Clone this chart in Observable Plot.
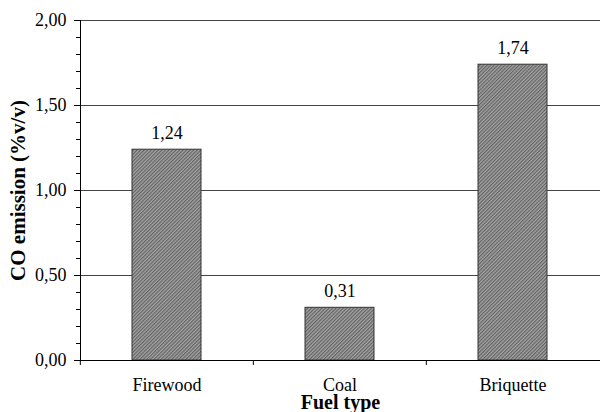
<!DOCTYPE html>
<html><head><meta charset="utf-8">
<script src="https://cdn.jsdelivr.net/npm/d3@7"></script>
<script src="https://cdn.jsdelivr.net/npm/@observablehq/plot@0.6"></script>
<style>body{margin:0;background:#fff}</style>
</head><body><div id="chart"></div>
<script>
const categories = ["Firewood", "Coal", "Briquette"];
const values = [1.24, 0.31, 1.74];
const majorTicks = [0, 0.5, 1.0, 1.5, 2.0];
const minorTicks = [0, 0.1, 0.2, 0.3, 0.4, 0.5, 0.6, 0.7, 0.8, 0.9, 1.0, 1.1, 1.2, 1.3, 1.4, 1.5, 1.6, 1.7, 1.8, 1.9, 2.0];
const gridTicks = [0.5, 1.0, 1.5, 2.0];
const yLabel = "CO emission (%v/v)";
const xLabel = "Fuel type";

const data = categories.map((c, i) => ({fuel: c, co: values[i]}));
const fmt = v => v.toFixed(2).replace(".", ",");

const W = 600, H = 412, mL = 80, mR = 0, mT = 20, mB = 52;
const step = (W - mL - mR) / categories.length;

const chart = Plot.plot({
  width: W, height: H,
  marginLeft: mL, marginRight: mR, marginTop: mT, marginBottom: mB,
  style: {fontFamily: "'Liberation Serif', 'Times New Roman', serif", fontSize: "18px", color: "#000", background: "#fff"},
  x: {domain: categories, paddingInner: 0.6, paddingOuter: 0.3},
  y: {domain: [0, 2]},
  marks: [
    Plot.gridY(gridTicks, {stroke: "#444", strokeOpacity: 1}),
    Plot.barY(data, {x: "fuel", y: "co", fill: "url(#hatch)", stroke: "#333", strokeWidth: 1}),
    Plot.text(data, {x: "fuel", y: "co", text: d => fmt(d.co), lineAnchor: "bottom", dy: -11, fontSize: 18}),
    Plot.frame({anchor: "left", stroke: "#000"}),
    Plot.ruleY([0], {stroke: "#000"}),
    Plot.axisY(majorTicks, {tickSize: 6, tickPadding: 8, tickFormat: fmt, label: null, stroke: "#000", fontSize: 18}),
    Plot.axisY(minorTicks, {tickSize: 4, tickFormat: () => "", label: null, stroke: "#000"}),
    Plot.axisX({tickSize: 0, tickPadding: 18, label: null, fontSize: 18}),
    Plot.axisX({tickSize: 5, tickFormat: () => "", label: null, dx: -step / 2, stroke: "#000"}),
    Plot.text([yLabel], {frameAnchor: "left", dx: -62, rotate: -90, textAnchor: "middle", fontWeight: "bold", fontSize: 21, text: d => d}),
    Plot.text([xLabel], {frameAnchor: "bottom", dy: 48, textAnchor: "middle", fontWeight: "bold", fontSize: 20, text: d => d})
  ]
});

const defs = d3.select(chart).insert("defs", ":first-child");
const p = defs.append("pattern").attr("id", "hatch").attr("patternUnits", "userSpaceOnUse")
  .attr("width", 2.5).attr("height", 2.5).attr("patternTransform", "rotate(45)");
p.append("rect").attr("width", 2.5).attr("height", 2.5).attr("fill", "#a4a4a4");
p.append("line").attr("x1", 0.6).attr("y1", 0).attr("x2", 0.6).attr("y2", 2.5).attr("stroke", "#5e5e5e").attr("stroke-width", 1.1);

document.getElementById("chart").append(chart);
</script>
</body></html>
